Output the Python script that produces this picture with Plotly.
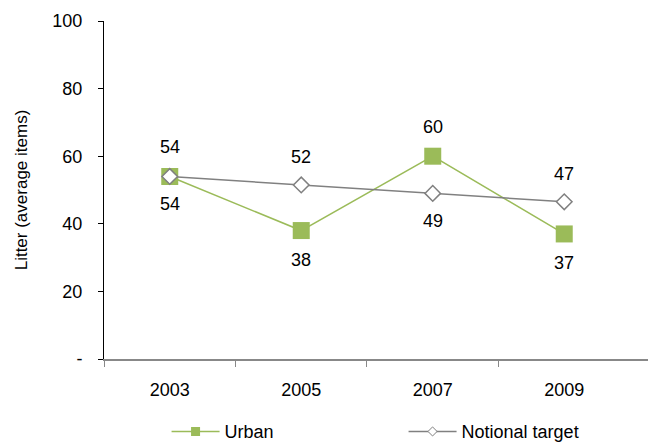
import math
import plotly.graph_objects as go

years = ["2003", "2005", "2007", "2009"]
urban = [54, 38, 60, 37]
target = [54, 51.5, 49, 46.5]
y_tickvals = [0, 20, 40, 60, 80, 100]
y_ticktext = ["-", "20", "40", "60", "80", "100"]

idx = list(range(len(years)))
FONT = "Liberation Sans, Arial, sans-serif"
GREEN = "#9BBB59"
GREY = "#808080"


def lab(v):
    return str(int(math.floor(v + 0.5)))


fig = go.Figure()
fig.add_trace(go.Scatter(
    x=idx, y=urban, name="Urban", mode="lines+markers", showlegend=False,
    line=dict(color=GREEN, width=1.5),
    marker=dict(symbol="square", size=17, color=GREEN),
))
fig.add_trace(go.Scatter(
    x=idx, y=target, name="Notional target", mode="lines+markers", showlegend=False,
    line=dict(color=GREY, width=1.5),
    marker=dict(symbol="diamond", size=12, color="white", line=dict(color=GREY, width=1.5)),
))
# legend-only entries (smaller markers, like the reference legend)
fig.add_trace(go.Scatter(
    x=[None], y=[None], name="Urban", mode="lines+markers",
    line=dict(color=GREEN, width=1.5),
    marker=dict(symbol="square", size=9, color=GREEN),
))
fig.add_trace(go.Scatter(
    x=[None], y=[None], name="Notional target", mode="lines+markers",
    line=dict(color=GREY, width=1.5),
    marker=dict(symbol="diamond", size=7, color="white", line=dict(color=GREY, width=1)),
))

urban_pos = [1, -1, 1, -1]
target_pos = [-1, 1, -1, 1]
for i in idx:
    fig.add_annotation(x=i, y=urban[i], text=lab(urban[i]), showarrow=False,
                       yshift=29 * urban_pos[i], font=dict(size=18, color="black", family=FONT))
    fig.add_annotation(x=i, y=target[i], text=lab(target[i]), showarrow=False,
                       yshift=28 * target_pos[i], font=dict(size=18, color="black", family=FONT))

fig.update_layout(
    width=649, height=443,
    margin=dict(l=104, r=1, t=21, b=84, autoexpand=False),
    plot_bgcolor="white", paper_bgcolor="white",
    font=dict(family=FONT, size=18, color="black"),
    showlegend=True,
    legend=dict(orientation="h", x=0.115, xanchor="left", y=-0.27, yanchor="bottom",
                font=dict(size=18), entrywidth=174, itemwidth=48,
                bgcolor="rgba(0,0,0,0)"),
    xaxis=dict(
        range=[-0.5, 3.637], tickvals=idx, ticktext=years, ticks="",
        showgrid=False, zeroline=False, showline=True, linecolor="#888888", linewidth=2,
        tickfont=dict(size=18), ticklabelstandoff=13,
        minor=dict(tickvals=[-0.5, 0.5, 1.5, 2.5], ticks="outside", ticklen=6,
                   tickcolor="#888888", tickwidth=1, showgrid=False),
    ),
    yaxis=dict(
        range=[0, 100], tickvals=y_tickvals, ticktext=y_ticktext,
        ticks="outside", ticklen=5, tickcolor="black",
        showgrid=False, zeroline=False, showline=True, linecolor="black", linewidth=1,
        tickfont=dict(size=18), ticklabelstandoff=12,
        title=dict(text="Litter (average items)", font=dict(size=17), standoff=20),
    ),
)

fig.write_html("out.html")
